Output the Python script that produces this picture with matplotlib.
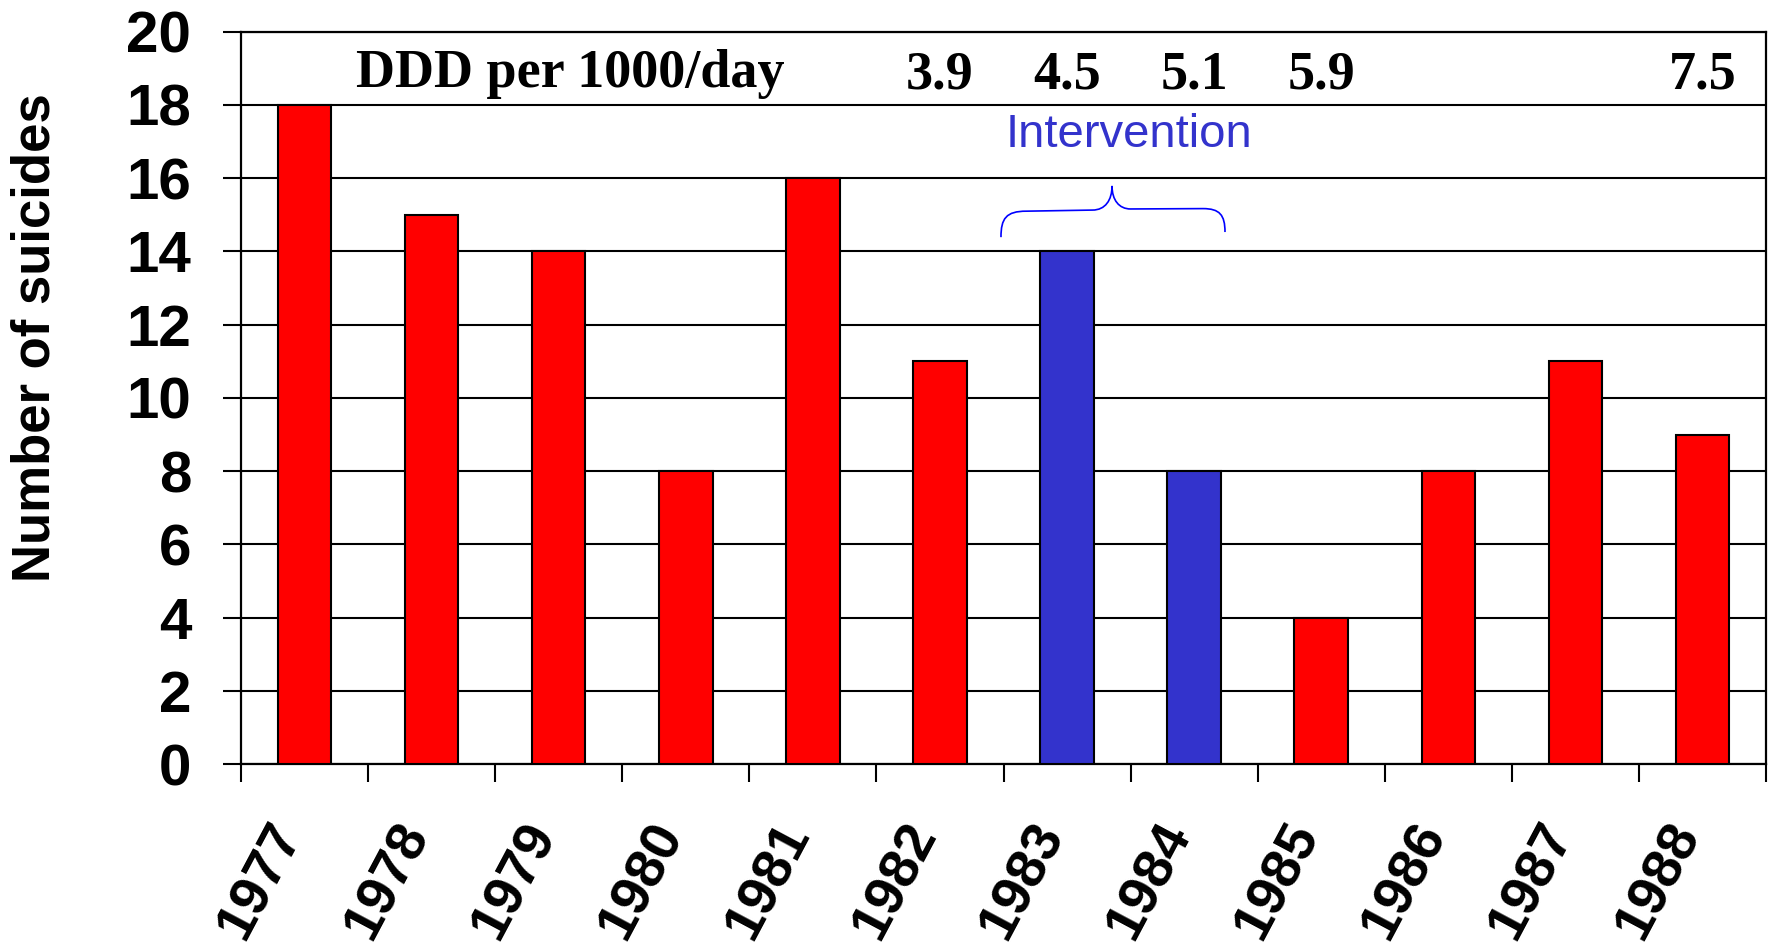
import matplotlib
matplotlib.use("Agg")
import matplotlib.pyplot as plt
import matplotlib.transforms as mtransforms
from matplotlib.path import Path
from matplotlib.patches import PathPatch
import numpy as np

# Annual suicide counts
years = ["1977", "1978", "1979", "1980", "1981", "1982",
         "1983", "1984", "1985", "1986", "1987", "1988"]
suicides = [18, 15, 14, 8, 16, 11, 14, 8, 4, 8, 11, 9]
intervention_years = ["1983", "1984"]

# Antidepressant use (DDD per 1000 inhabitants per day) for selected years
ddd_years = ["1982", "1983", "1984", "1985", "1988"]
ddd_values = ["3.9", "4.5", "5.1", "5.9", "7.5"]

y_ticks = [0, 2, 4, 6, 8, 10, 12, 14, 16, 18, 20]

RED = "#ff0000"
BLUE_BAR = "#3333cc"
BRACE_BLUE = "#0000ff"

fig = plt.figure(figsize=(17.73, 9.51), dpi=100)
ax = fig.add_axes([0.136, 0.1966, 0.860, 0.770])

x = np.arange(len(years))
colors = [BLUE_BAR if y in intervention_years else RED for y in years]
ax.bar(x, suicides, width=0.42, color=colors, edgecolor="black",
       linewidth=1.5, zorder=3)

ax.set_xlim(-0.5, len(years) - 0.5)
ax.set_ylim(0, 20)

# Horizontal gridlines
ax.set_yticks(y_ticks)
ax.yaxis.grid(True, color="black", linewidth=1.5)
ax.set_axisbelow(True)

for side in ["left", "right", "bottom", "top"]:
    ax.spines[side].set_linewidth(1.6)
    ax.spines[side].set_color("black")

ax.tick_params(axis="y", which="major", direction="out", length=13,
               width=1.5, pad=23)
for lbl in ax.get_yticklabels():
    lbl.set_fontfamily("Liberation Sans")
    lbl.set_fontweight("bold")
    lbl.set_fontsize(42)

# Category boundaries carry the tick marks; labels sit at the centres
ax.set_xticks(np.arange(len(years) + 1) - 0.5, minor=True)
ax.set_xticks(x)
ax.set_xticklabels(years, rotation=62, ha="right", va="center",
                   rotation_mode="anchor", fontfamily="Liberation Sans",
                   fontweight="bold", fontsize=40)
ax.tick_params(axis="x", which="minor", direction="out", length=13, width=1.5)
ax.tick_params(axis="x", which="major", length=0, pad=45)
shift = mtransforms.ScaledTranslation(-0.15, 0, fig.dpi_scale_trans)
for lbl in ax.get_xticklabels():
    lbl.set_transform(lbl.get_transform() + shift)

fig.text(36 / 1773, 1 - 338 / 951, "Number of suicides", rotation=90,
         ha="center", va="center", fontfamily="Liberation Sans",
         fontweight="bold", fontsize=38)

# DDD annotations along the top row
ax.text(2.09, 18.48, "DDD per 1000/day", ha="center", va="baseline",
        fontfamily="Liberation Serif", fontweight="bold", fontsize=39,
        zorder=4)
for yr, val in zip(ddd_years, ddd_values):
    ax.text(years.index(yr), 18.46, val, ha="center", va="baseline",
            fontfamily="Liberation Serif", fontweight="bold", fontsize=39,
            zorder=4)

ax.text(6.49, 16.85, "Intervention", ha="center", va="baseline",
        fontfamily="Liberation Sans", fontsize=34, color=BLUE_BAR, zorder=4)

# Curly brace spanning the intervention period
verts = [
    (5.48, 14.39),
    (5.48, 14.90), (5.52, 15.10), (5.68, 15.10),
    (6.20, 15.13),
    (6.30, 15.13), (6.354, 15.40), (6.354, 15.79),
    (6.354, 15.40), (6.41, 15.16), (6.50, 15.16),
    (7.07, 15.17),
    (7.20, 15.17), (7.243, 15.00), (7.243, 14.53),
]
codes = [Path.MOVETO,
         Path.CURVE4, Path.CURVE4, Path.CURVE4,
         Path.LINETO,
         Path.CURVE4, Path.CURVE4, Path.CURVE4,
         Path.CURVE4, Path.CURVE4, Path.CURVE4,
         Path.LINETO,
         Path.CURVE4, Path.CURVE4, Path.CURVE4]
ax.add_patch(PathPatch(Path(verts, codes), facecolor="none",
                       edgecolor=BRACE_BLUE, linewidth=1.2, zorder=4))

fig.savefig("out.png", dpi=100)
